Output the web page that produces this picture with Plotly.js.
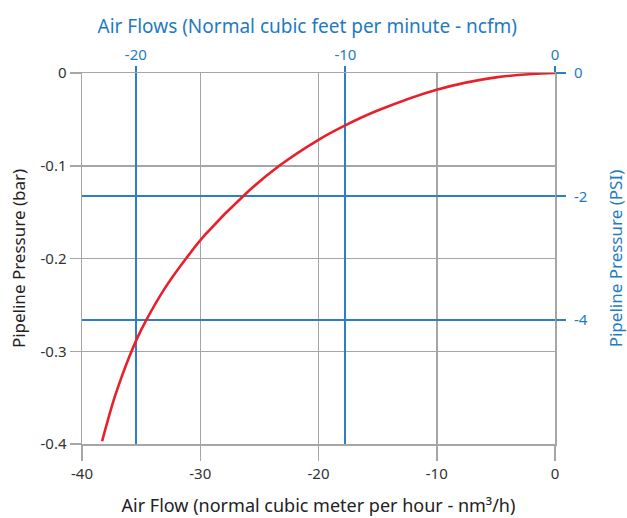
<!DOCTYPE html>
<html>
<head>
<meta charset="utf-8">
<script src="https://cdn.plot.ly/plotly-3.0.1.min.js"></script>
<style>html,body{margin:0;padding:0;background:#fff;}#chart{width:627px;height:518px;}</style>
</head>
<body>
<div id="chart"></div>
<script>
// Air flow (nm³/h) vs pipeline pressure (bar)
var flowNm3h = [0, -5, -10, -15, -17.7, -20, -23.4, -26.2, -29.6, -31.2, -33, -34.6, -35.3, -36, -36.6, -37.3, -38.3];
var pressureBar = [0, -0.0047, -0.018, -0.0405, -0.0562, -0.072, -0.1008, -0.1307, -0.1746, -0.2, -0.2322, -0.2672, -0.285, -0.306, -0.326, -0.352, -0.397];

var bottomTicks = [-40, -30, -20, -10, 0];
var leftTicks = [0, -0.1, -0.2, -0.3, -0.4];
var topTicks = [-20, -10, 0];
var rightTicks = [0, -2, -4];

var gray = '#a6a6a6';
var blue = '#1f7bc1';
var blueLine = '#2a7fc8';
var font = 'Noto Sans, Open Sans, sans-serif';

var traces = [
  {x: flowNm3h, y: pressureBar, type: 'scatter', mode: 'lines',
   line: {color: '#e8202a', width: 2.6, shape: 'spline', smoothing: 1},
   xaxis: 'x', yaxis: 'y', hoverinfo: 'none'},
  {x: [null], y: [null], type: 'scatter', mode: 'lines', xaxis: 'x2', yaxis: 'y2', showlegend: false, hoverinfo: 'none'}
];

var layout = {
  width: 627, height: 518,
  margin: {l: 82, r: 72, t: 73, b: 74},
  paper_bgcolor: '#fff', plot_bgcolor: '#fff',
  showlegend: false,
  font: {family: font, color: '#333', size: 14},
  title: {
    text: 'Air Flows (Normal cubic feet per minute - ncfm)',
    font: {size: 19, color: blue},
    xref: 'container', x: 0.49, xanchor: 'center',
    yref: 'container', y: 1 - 26 / 518, yanchor: 'middle'
  },
  xaxis: {
    range: [-40, 0], tickvals: bottomTicks, ticktext: bottomTicks.map(String),
    showgrid: true, gridcolor: gray, gridwidth: 1.5,
    ticks: 'outside', ticklen: 15, tickcolor: gray, tickwidth: 1.5,
    showline: true, linecolor: gray, linewidth: 1.5, mirror: true,
    zeroline: false, tickfont: {size: 15, color: '#333'},
    title: {text: 'Air Flow (normal cubic meter per hour - nm³/h)', font: {size: 18, color: '#222'}, standoff: 18}
  },
  yaxis: {
    range: [-0.4, 0], tickvals: leftTicks, ticktext: leftTicks.map(String),
    showgrid: true, gridcolor: gray, gridwidth: 1.5,
    ticks: 'outside', ticklen: 11, tickcolor: gray, tickwidth: 1.5,
    showline: true, linecolor: gray, linewidth: 1.5, mirror: true,
    zeroline: false, tickfont: {size: 15, color: '#333'},
    title: {text: 'Pipeline Pressure (bar)', font: {size: 17, color: '#222'}, standoff: 10}
  },
  xaxis2: {
    overlaying: 'x', side: 'top', anchor: 'y',
    range: [-22.57, 0], tickvals: topTicks, ticktext: topTicks.map(String),
    showgrid: true, gridcolor: blueLine, gridwidth: 2,
    ticks: 'outside', ticklen: 6, tickcolor: blueLine, tickwidth: 2,
    zeroline: false, showline: false,
    tickfont: {size: 15, color: blue}
  },
  yaxis2: {
    overlaying: 'y', side: 'right', anchor: 'x',
    range: [-6.015, 0], tickvals: rightTicks, ticktext: rightTicks.map(String),
    showgrid: true, gridcolor: blueLine, gridwidth: 2,
    ticks: 'outside', ticklen: 10, tickcolor: blueLine, tickwidth: 2,
    ticklabelstandoff: 5,
    zeroline: false, showline: false,
    tickfont: {size: 15, color: blue},
    title: {text: 'Pipeline Pressure (PSI)', font: {size: 17, color: blue}, standoff: 30}
  }
};

Plotly.newPlot('chart', traces, layout, {staticPlot: true, displayModeBar: false});
</script>
</body>
</html>
